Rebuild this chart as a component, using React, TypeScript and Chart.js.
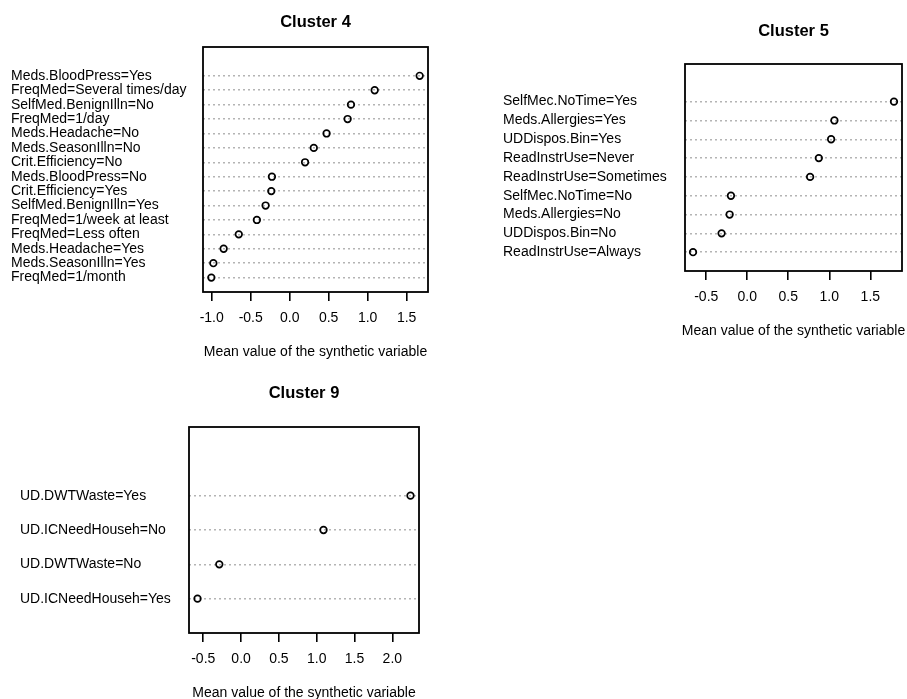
import React, { useEffect, useRef } from "react";
import { Chart, registerables } from "chart.js";

Chart.register(...registerables);

const FONT = "'Liberation Sans', Arial, Helvetica, sans-serif";

// ---- data (top row first) ----
const cluster4Labels = [
  "Meds.BloodPress=Yes",
  "FreqMed=Several times/day",
  "SelfMed.BenignIlln=No",
  "FreqMed=1/day",
  "Meds.Headache=No",
  "Meds.SeasonIlln=No",
  "Crit.Efficiency=No",
  "Meds.BloodPress=No",
  "Crit.Efficiency=Yes",
  "SelfMed.BenignIlln=Yes",
  "FreqMed=1/week at least",
  "FreqMed=Less often",
  "Meds.Headache=Yes",
  "Meds.SeasonIlln=Yes",
  "FreqMed=1/month",
];
const cluster4Values = [
  1.667, 1.09, 0.786, 0.743, 0.473, 0.309, 0.197, -0.228, -0.236, -0.309,
  -0.421, -0.653, -0.847, -0.979, -1.005,
];
const cluster4Ticks = [-1.0, -0.5, 0.0, 0.5, 1.0, 1.5];

const cluster5Labels = [
  "SelfMec.NoTime=Yes",
  "Meds.Allergies=Yes",
  "UDDispos.Bin=Yes",
  "ReadInstrUse=Never",
  "ReadInstrUse=Sometimes",
  "SelfMec.NoTime=No",
  "Meds.Allergies=No",
  "UDDispos.Bin=No",
  "ReadInstrUse=Always",
];
const cluster5Values = [1.788, 1.062, 1.022, 0.872, 0.766, -0.199, -0.215, -0.313, -0.661];
const cluster5Ticks = [-0.5, 0.0, 0.5, 1.0, 1.5];

const cluster9Labels = [
  "UD.DWTWaste=Yes",
  "UD.ICNeedHouseh=No",
  "UD.DWTWaste=No",
  "UD.ICNeedHouseh=Yes",
];
const cluster9Values = [2.24, 1.09, -0.288, -0.576];
const cluster9Ticks = [-0.5, 0.0, 0.5, 1.0, 1.5, 2.0];

const xAxisTitle = "Mean value of the synthetic variable";

type Rect = { left: number; top: number; width: number; height: number };
type Box = { left: number; right: number; top: number; bottom: number };

type PanelProps = {
  title: string;
  labels: string[];
  values: number[];
  ticks: number[];
  canvas: Rect;
  box: Box; // page coords of plot frame
  labelLeft: number; // page x of category labels
  titleY: number; // page y (center)
  xTitleY: number; // page y (center)
};

function Panel(p: PanelProps) {
  const ref = useRef<HTMLCanvasElement | null>(null);

  useEffect(() => {
    if (!ref.current) return;
    const n = p.labels.length;
    const vmin = Math.min(...p.values);
    const vmax = Math.max(...p.values);
    const ext = (vmax - vmin) * 0.04;

    const framePlugin = {
      id: "frame",
      afterDraw(chart: any) {
        const { ctx, chartArea } = chart;
        const { left, top, right, bottom } = chartArea;
        ctx.save();
        ctx.strokeStyle = "#000";
        ctx.lineWidth = 1.8;
        ctx.strokeRect(left, top, right - left, bottom - top);
        ctx.fillStyle = "#000";
        ctx.textAlign = "center";
        ctx.textBaseline = "middle";
        const cx = (left + right) / 2;
        ctx.font = `bold 16.5px ${FONT}`;
        ctx.fillText(p.title, cx, p.titleY - p.canvas.top);
        ctx.font = `14px ${FONT}`;
        ctx.fillText(xAxisTitle, cx, p.xTitleY - p.canvas.top);
        ctx.restore();
      },
    };

    const chart = new Chart(ref.current, {
      type: "scatter",
      data: {
        datasets: [
          {
            data: p.values.map((v, i) => ({ x: v, y: n - i })),
            pointStyle: "circle",
            pointRadius: 3.3,
            pointHoverRadius: 3.3,
            pointBorderWidth: 1.7,
            borderColor: "#000",
            backgroundColor: "rgba(0,0,0,0)",
            pointBackgroundColor: "rgba(0,0,0,0)",
            pointBorderColor: "#000",
            showLine: false,
          } as any,
        ],
      },
      options: {
        responsive: false,
        animation: false,
        events: [],
        layout: {
          padding: {
            left: p.labelLeft - p.canvas.left,
            top: p.box.top - p.canvas.top,
            right: p.canvas.left + p.canvas.width - p.box.right,
            bottom: 0,
          },
        },
        plugins: {
          legend: { display: false },
          tooltip: { enabled: false },
          title: { display: false },
        },
        scales: {
          x: {
            type: "linear",
            position: "bottom",
            bounds: "data",
            min: vmin - ext,
            max: vmax + ext,
            afterFit: (s: any) => {
              s.height = p.canvas.top + p.canvas.height - p.box.bottom;
            },
            afterBuildTicks: (s: any) => {
              s.ticks = p.ticks.map((v) => ({ value: v }));
            },
            ticks: {
              autoSkip: false,
              maxRotation: 0,
              color: "#000",
              padding: 9,
              font: { family: FONT, size: 14 },
              callback: (v: any) => Number(v).toFixed(1),
            },
            grid: {
              drawOnChartArea: false,
              drawTicks: true,
              tickLength: 9,
              color: "#000",
              lineWidth: 1.6,
            },
            border: { display: false },
          },
          y: {
            type: "linear",
            position: "left",
            min: 0,
            max: n + 2,
            afterFit: (s: any) => {
              s.width = p.box.left - p.labelLeft;
            },
            afterBuildTicks: (s: any) => {
              s.ticks = p.labels.map((_, i) => ({ value: n - i }));
            },
            ticks: {
              autoSkip: false,
              crossAlign: "far",
              color: "#000",
              padding: 0,
              font: { family: FONT, size: 14 },
              callback: (v: any) => p.labels[n - Number(v)] ?? "",
            },
            grid: {
              drawTicks: false,
              color: "#b4b4b4",
              lineWidth: 1.5,
              borderDash: [2, 3],
            } as any,
            border: { display: false, dash: [2, 3] } as any,
          },
        },
      } as any,
      plugins: [framePlugin],
    });
    return () => chart.destroy();
  }, []);

  return (
    <canvas
      ref={ref}
      width={p.canvas.width}
      height={p.canvas.height}
      style={{
        position: "absolute",
        left: p.canvas.left,
        top: p.canvas.top,
        width: p.canvas.width,
        height: p.canvas.height,
      }}
    />
  );
}

export default function App() {
  return (
    <div
      style={{
        position: "absolute",
        left: 0,
        top: 0,
        width: 907,
        height: 699,
        background: "#fff",
        overflow: "hidden",
      }}
    >
      <Panel
        title="Cluster 4"
        labels={cluster4Labels}
        values={cluster4Values}
        ticks={cluster4Ticks}
        canvas={{ left: 0, top: 0, width: 450, height: 365 }}
        box={{ left: 203, right: 428, top: 47, bottom: 292 }}
        labelLeft={11}
        titleY={22}
        xTitleY={352}
      />
      <Panel
        title="Cluster 5"
        labels={cluster5Labels}
        values={cluster5Values}
        ticks={cluster5Ticks}
        canvas={{ left: 460, top: 0, width: 447, height: 350 }}
        box={{ left: 685, right: 902, top: 64, bottom: 271 }}
        labelLeft={503}
        titleY={31}
        xTitleY={331}
      />
      <Panel
        title="Cluster 9"
        labels={cluster9Labels}
        values={cluster9Values}
        ticks={cluster9Ticks}
        canvas={{ left: 0, top: 365, width: 450, height: 334 }}
        box={{ left: 189, right: 419, top: 427, bottom: 633 }}
        labelLeft={20}
        titleY={393}
        xTitleY={693.5}
      />
    </div>
  );
}
